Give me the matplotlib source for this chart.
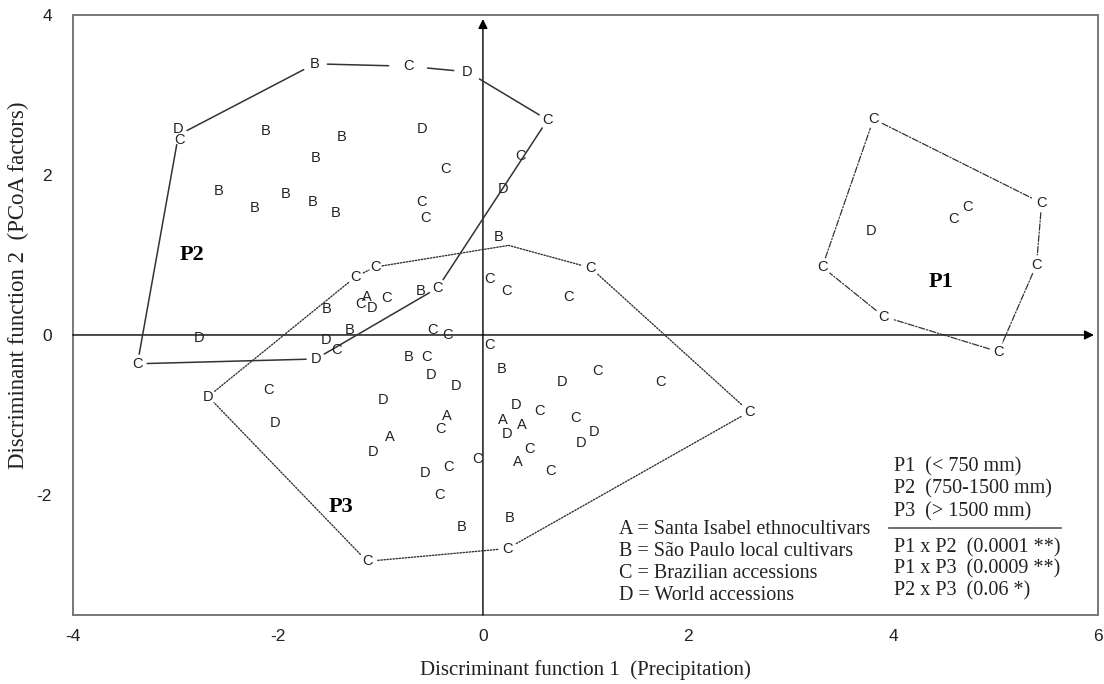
import matplotlib
matplotlib.use("Agg")
import matplotlib.pyplot as plt

plt.rcParams["axes.unicode_minus"] = False

# accession scores (discriminant function 1, discriminant function 2)
a_x = [-1.13, -0.35, -0.91, 0.19, 0.38, 0.34]
a_y = [0.48, -1.01, -1.27, -1.06, -1.12, -1.59]

b_x = [-1.64, -2.12, -1.38, -1.63, -2.58, -1.92, -2.23, -1.66, -1.44, 0.15,
       -1.52, -1.30, -0.61, -0.72, 0.18, -0.21, 0.26]
b_y = [3.39, 2.55, 2.48, 2.21, 1.80, 1.76, 1.59, 1.66, 1.53, 1.23,
       0.32, 0.06, 0.55, -0.27, -0.43, -2.40, -2.29]

c_x = [-0.73, 0.63, -2.96, -0.37, 0.37, -0.60, -0.56, -3.37, -1.24, -1.05,
       -1.19, -0.94, -1.43, -0.44, -0.49, -0.35, 0.06, 0.23, 1.05, 0.83,
       0.06, -0.55, 1.12, 1.73, 2.60, -2.09, -0.41, 0.55, 0.90, 0.45,
       0.66, -0.34, -0.05, -0.42, 0.24, -1.13,
       3.81, 5.45, 4.73, 4.59, 3.31, 5.40, 3.91, 5.03]
c_y = [3.36, 2.69, 2.44, 2.08, 2.24, 1.66, 1.46, -0.36, 0.73, 0.85,
       0.39, 0.46, -0.19, 0.59, 0.06, 0.00, 0.70, 0.55, 0.84, 0.48,
       -0.13, -0.28, -0.45, -0.59, -0.96, -0.69, -1.18, -0.95, -1.04, -1.43,
       -1.70, -1.65, -1.55, -2.00, -2.67, -2.83,
       2.70, 1.65, 1.60, 1.45, 0.85, 0.88, 0.23, -0.21]

d_x = [-0.15, -2.97, -0.59, 0.20, -1.08, -2.77, -1.53, -1.63, -0.51, -0.26,
       0.77, -0.97, -2.68, -2.03, -1.07, -0.56, 0.32, 0.24, 1.08, 0.96, 3.79]
d_y = [3.29, 2.58, 2.58, 1.83, 0.34, -0.04, -0.06, -0.30, -0.50, -0.64,
       -0.59, -0.81, -0.77, -1.10, -1.46, -1.72, -0.88, -1.24, -1.21, -1.35, 1.30]

# hull outlines of the three precipitation groups (gap = space left at each vertex, pt)
p1_x = [3.81, 5.45, 5.40, 5.03, 3.91, 3.31, 3.81]
p1_y = [2.70, 1.65, 0.88, -0.21, 0.23, 0.85, 2.70]
p1_gap = [7, 7, 7, 7, 7, 7, 7]

p2_x = [0.63, -0.44, -1.63, -3.37, -2.97, -1.64, -0.73, -0.15, 0.63]
p2_y = [2.69, 0.59, -0.30, -0.36, 2.50, 3.39, 3.36, 3.29, 2.69]
p2_gap = [7, 7, 7, 7, 7, 9, 14, 10, 7]

p3_x = [-2.68, -1.24, -1.05, 0.25, 1.05, 2.60, 0.24, -1.13, -2.68]
p3_y = [-0.77, 0.73, 0.85, 1.12, 0.84, -0.96, -2.67, -2.83, -0.77]
p3_gap = [6, 6, 5, 0, 7, 7, 7, 7, 6]

groups = ["P1", "P2", "P3"]
group_x = [4.47, -2.84, -1.38]
group_y = [0.66, 1.00, -2.15]

key_lines = ["A = Santa Isabel ethnocultivars", "B = São Paulo local cultivars",
             "C = Brazilian accessions", "D = World accessions"]
range_lines = ["P1  (< 750 mm)", "P2  (750-1500 mm)", "P3  (> 1500 mm)"]
test_lines = ["P1 x P2  (0.0001 **)", "P1 x P3  (0.0009 **)", "P2 x P3  (0.06 *)"]

sans = "Liberation Sans"
serif = "Liberation Serif"
ink = "#222222"

fig = plt.figure(figsize=(11.04, 6.84), dpi=100)
ax = fig.add_axes([0.066, 0.101, 0.9286, 0.877])
ax.set_xlim(-4, 6)
ax.set_ylim(-3.5, 4)

for s in ax.spines.values():
    s.set_color("#777777")
    s.set_linewidth(1.4)

ax.set_xticks([-4, -2, 0, 2, 4, 6])
ax.set_yticks([-2, 0, 2, 4])
ax.tick_params(length=0, labelsize=12.5, labelcolor=ink)
ax.tick_params(axis="x", pad=10)
ax.tick_params(axis="y", pad=15)
for lab in ax.get_xticklabels() + ax.get_yticklabels():
    lab.set_fontfamily(sans)

ax.set_xlabel("Discriminant function 1  (Precipitation)", fontfamily=serif,
              fontsize=15, color=ink, labelpad=12)
ax.set_ylabel("Discriminant function 2  (PCoA factors)", fontfamily=serif,
              fontsize=16.5, color=ink)
ax.yaxis.set_label_coords(-0.043, 0.55)

# zero axes with arrow heads
ax.annotate("", xy=(5.96, 0), xytext=(-4, 0),
            arrowprops=dict(arrowstyle="-|>", color="black", lw=1.0,
                            mutation_scale=14, shrinkA=0, shrinkB=0))
ax.annotate("", xy=(0, 3.95), xytext=(0, -3.5),
            arrowprops=dict(arrowstyle="-|>", color="black", lw=1.0,
                            mutation_scale=14, shrinkA=0, shrinkB=0))


def draw_hull(xs, ys, gaps, style, lw):
    for i in range(len(xs) - 1):
        ax.annotate("", xy=(xs[i + 1], ys[i + 1]), xytext=(xs[i], ys[i]),
                    arrowprops=dict(arrowstyle="-", color="#333333", lw=lw,
                                    linestyle=style, shrinkA=gaps[i],
                                    shrinkB=gaps[i + 1]))


draw_hull(p1_x, p1_y, p1_gap, (0, (5, 1.5, 1, 1.5)), 0.9)
draw_hull(p2_x, p2_y, p2_gap, "-", 1.1)
draw_hull(p3_x, p3_y, p3_gap, (0, (1, 1.2)), 1.0)

for xs, ys, letter in [(a_x, a_y, "A"), (b_x, b_y, "B"), (c_x, c_y, "C"), (d_x, d_y, "D")]:
    for x, y in zip(xs, ys):
        ax.text(x, y, letter, ha="center", va="center", fontfamily=sans,
                fontsize=10.5, color=ink)

for name, x, y in zip(groups, group_x, group_y):
    ax.text(x, y, name, ha="center", va="center", fontfamily=serif,
            fontsize=16, fontweight="bold", color="black")

for i, t in enumerate(key_lines):
    ax.text(1.33, -2.43 - 0.275 * i, t, ha="left", va="center",
            fontfamily=serif, fontsize=14.5, color=ink)

for i, t in enumerate(range_lines):
    ax.text(4.01, -1.65 - 0.28 * i, t, ha="left", va="center",
            fontfamily=serif, fontsize=14.5, color=ink)
ax.plot([3.96, 5.64], [-2.41, -2.41], color="#555555", lw=1.2)
for i, t in enumerate(test_lines):
    ax.text(4.01, -2.66 - 0.27 * i, t, ha="left", va="center",
            fontfamily=serif, fontsize=14.5, color=ink)

fig.savefig("out.png", dpi=100)
